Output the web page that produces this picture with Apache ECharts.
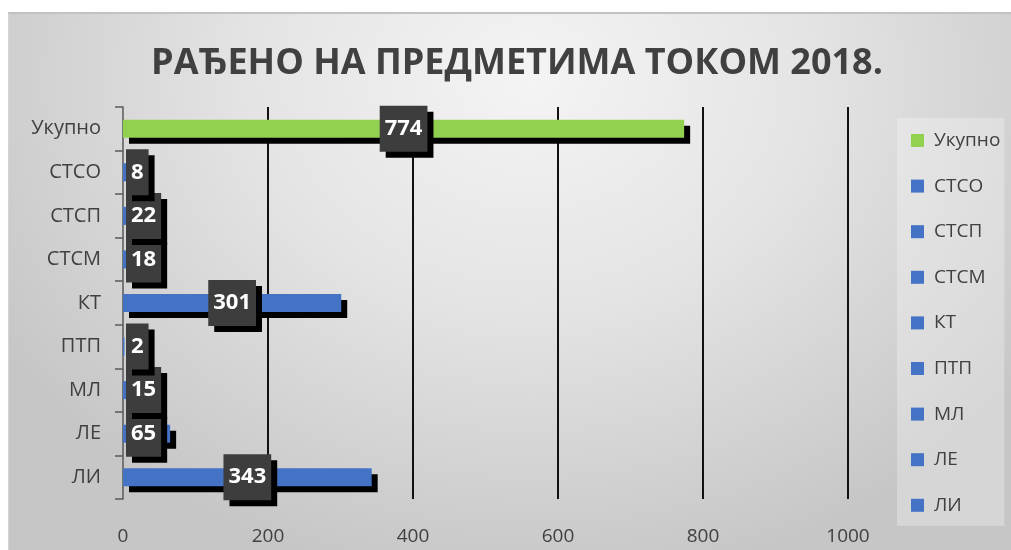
<!DOCTYPE html>
<html>
<head>
<meta charset="utf-8">
<script src="https://cdn.jsdelivr.net/npm/echarts@6/dist/echarts.min.js"></script>
<style>
  html, body { margin: 0; padding: 0; background: #ffffff; }
  #panel {
    position: absolute; left: 8px; top: 12px; width: 1003px; height: 538px;
    box-sizing: border-box; border-top: 2px solid #c2c2c2; border-left: 1px solid #d4d4d4;
    background: radial-gradient(ellipse 62% 95% at 52% 12%, #f4f4f4 0%, #e4e4e4 45%, #c6c6c6 100%);
  }
  #chart { position: absolute; left: 0; top: 0; width: 1011px; height: 550px; }
</style>
</head>
<body>
<div id="panel"></div>
<div id="chart"></div>
<script>
// Data (bottom to top, as on the category axis)
const categories = ['ЛИ', 'ЛЕ', 'МЛ', 'ПТП', 'КТ', 'СТСМ', 'СТСП', 'СТСО', 'Укупно'];
const values = [343, 65, 15, 2, 301, 18, 22, 8, 774];
const xTicks = [0, 200, 400, 600, 800, 1000];
const titleText = 'РАЂЕНО НА ПРЕДМЕТИМА ТОКОМ 2018.';

const BLUE = '#4472C4';
const GREEN = '#92D050';
const font = '"Open Sans", "Noto Sans", sans-serif';

const chart = echarts.init(document.getElementById('chart'), null, { renderer: 'canvas' });

const series = categories.map((name, i) => {
  const data = categories.map((c, j) => (j === i ? values[i] : null));
  const small = values[i] < 70;
  return {
    name: name,
    type: 'bar',
    stack: 'all',
    barWidth: 18,
    data: data,
    itemStyle: {
      color: name === 'Укупно' ? GREEN : BLUE,
      shadowColor: '#000000',
      shadowBlur: 0,
      shadowOffsetX: 6,
      shadowOffsetY: 6
    },
    label: {
      show: true,
      position: small ? [3, '50%'] : 'inside',
      align: small ? 'left' : 'center',
      verticalAlign: 'middle',
      color: '#ffffff',
      fontFamily: font,
      fontWeight: 'bold',
      fontSize: 22,
      lineHeight: 22,
      backgroundColor: '#3d3d3d',
      padding: [12, 5],
      shadowColor: '#000000',
      shadowBlur: 0,
      shadowOffsetX: 6,
      shadowOffsetY: 6
    },
    z: 2
  };
});

const option = {
  animation: false,
  backgroundColor: 'transparent',
  title: {
    text: titleText,
    left: 512,
    textAlign: 'center',
    top: 41,
    textStyle: { color: '#404040', fontFamily: font, fontWeight: 'bold', fontSize: 36 }
  },
  legend: {
    orient: 'vertical',
    left: 897,
    top: 118,
    data: categories.slice().reverse(),
    icon: 'rect',
    itemWidth: 13,
    itemHeight: 13,
    itemGap: 26.6,
    padding: [13, 4, 11, 14],
    backgroundColor: 'rgba(255,255,255,0.28)',
    textStyle: { color: '#404040', fontFamily: font, fontSize: 19, padding: [0, 0, 0, 5] },
    selectedMode: false
  },
  grid: { left: 123, right: 163, top: 107, bottom: 51, containLabel: false },
  xAxis: {
    type: 'value',
    min: xTicks[0],
    max: xTicks[xTicks.length - 1],
    interval: xTicks[1] - xTicks[0],
    axisLine: { show: false },
    axisTick: { show: false },
    axisLabel: { color: '#404040', fontFamily: font, fontSize: 19, margin: 28, formatter: v => String(v) },
    splitLine: {
      show: true,
      lineStyle: { color: ['rgba(0,0,0,0)', '#111', '#111', '#111', '#111', '#111'], width: 2 }
    }
  },
  yAxis: {
    type: 'category',
    data: categories,
    axisLine: { show: true, lineStyle: { color: '#595959', width: 1.5 } },
    axisTick: { show: true, length: 8, lineStyle: { color: '#595959', width: 1.5 } },
    axisLabel: { color: '#404040', fontFamily: font, fontSize: 20, margin: 22 }
  },
  series: series
};

chart.setOption(option);
</script>
</body>
</html>
